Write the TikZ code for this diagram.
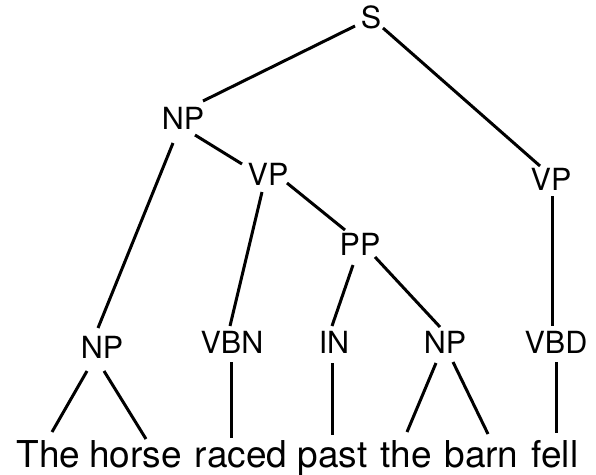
\documentclass[tikz,border=0pt]{standalone}
\usepackage{fontspec}
\setmainfont{TeX Gyre Heros}
\usetikzlibrary{calc}
\begin{document}
\begin{tikzpicture}[x=1pt,y=-1pt,
  cat/.style={inner sep=0pt,anchor=base,font=\fontsize{30.5}{30.5}\selectfont},
  word/.style={inner sep=0pt,anchor=base,font=\fontsize{37}{37}\selectfont},
  branch/.style={line width=3pt,line cap=butt}]
\useasboundingbox (0,0) rectangle (596,474);

% category labels
\node[cat] (s)    at (371,28)  {S};
\node[cat] (np1)  at (183,129) {NP};
\node[cat] (vp1)  at (268,185) {VP};
\node[cat] (vp2)  at (551,190) {VP};
\node[cat] (pp)   at (360,255) {PP};
\node[cat] (np2)  at (102,358) {NP};
\node[cat] (vbn)  at (232,353) {VBN};
\node[cat] (in)   at (334,353) {IN};
\node[cat] (np3)  at (445,353) {NP};
\node[cat] (vbd)  at (556,353) {VBD};

% the sentence
\node[word] (w1) at (48.5,467)  {The};
\node[word] (w2) at (135.5,467) {horse};
\node[word] (w3) at (241,467)   {raced};
\node[word] (w4) at (332.5,467) {past};
\node[word] (w5) at (406,467)   {the};
\node[word] (w6) at (481.5,467) {barn};
\node[word] (w7) at (555,467)   {fell};

% branches
\draw[branch] ($(s.base)+(-16,-2)$) -- ($(np1.base)+(20,-28)$);
\draw[branch] ($(s.base)+(12,0)$)   -- ($(vp2.base)+(-11,-24)$);
\draw[branch] ($(np1.base)+(12,6)$) -- ($(vp1.base)+(-26,-21)$);
\draw[branch] ($(np1.base)+(-10,14)$) -- ($(np2.base)+(-4,-30)$);
\draw[branch] ($(vp1.base)+(-6,7)$) -- ($(vbn.base)+(-2,-27)$);
\draw[branch] ($(vp1.base)+(19,-2)$) -- ($(pp.base)+(-15,-25)$);
\draw[branch] ($(vp2.base)+(1,6)$)  -- ($(vbd.base)+(-4,-27)$);
\draw[branch] ($(pp.base)+(-7,10)$) -- ($(in.base)+(-2,-27)$);
\draw[branch] ($(pp.base)+(15,2)$)  -- ($(np3.base)+(-5,-26)$);

\draw[branch] ($(np2.base)+(-15,13)$) -- ($(w1.base)+(3.5,-35)$);
\draw[branch] ($(np2.base)+(2,13)$)   -- ($(w2.base)+(10.5,-28)$);
\draw[branch] ($(vbn.base)+(-1,9)$)   -- ($(w3.base)+(-10,-29)$);
\draw[branch] ($(in.base)+(-2,10)$)   -- ($(w4.base)+(-0.5,-32)$);
\draw[branch] ($(np3.base)+(-9,10)$)  -- ($(w5.base)+(1,-35)$);
\draw[branch] ($(np3.base)+(8,9)$)    -- ($(w6.base)+(6.5,-33)$);
\draw[branch] ($(vbd.base)+(0,9)$)    -- ($(w7.base)+(1,-34)$);
\end{tikzpicture}
\end{document}
